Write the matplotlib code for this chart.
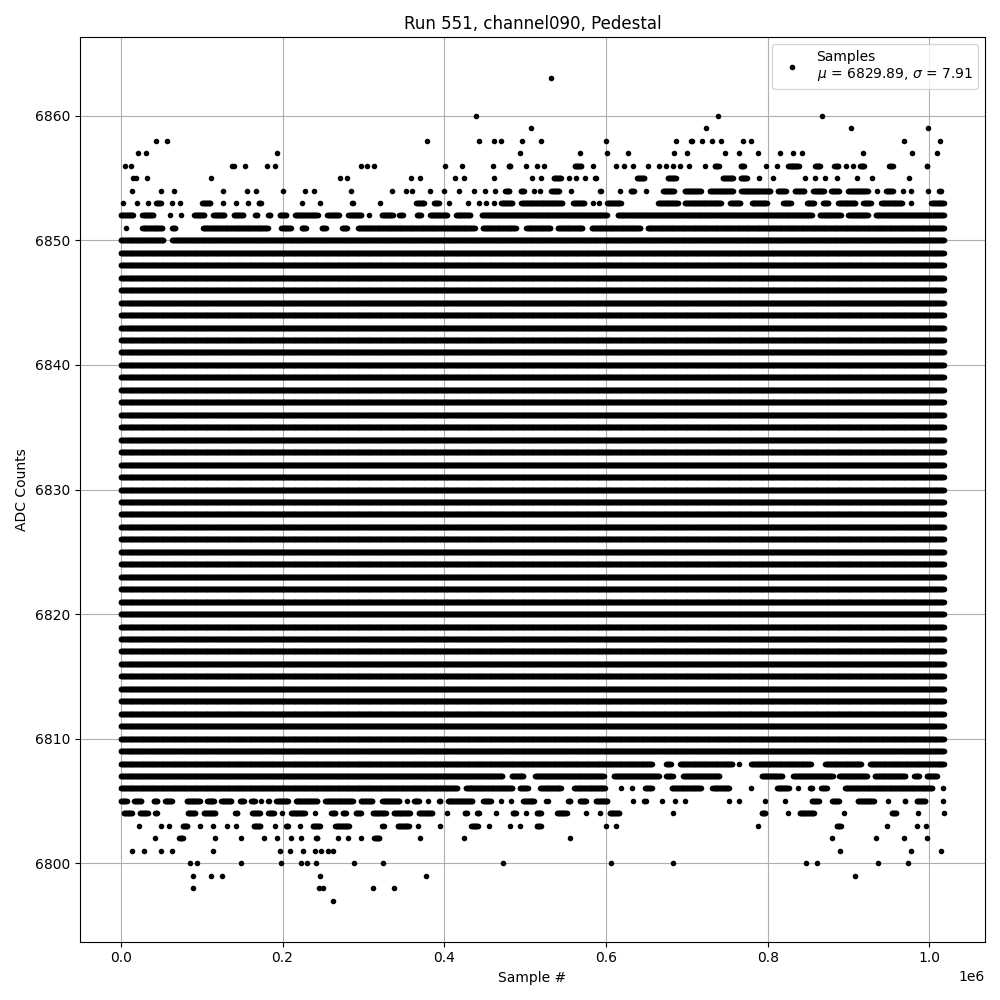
import numpy as np
import matplotlib
matplotlib.use("Agg")
import matplotlib.pyplot as plt

# ── Dados ───────────────────────────────────────────────────────────────────
# posições em milhares de amostras; (a, b) = trecho contínuo (bordas visíveis),
# número = ponto isolado
n_samples_k = 1018
mu, sigma = 6829.89, 7.91

# níveis preenchidos em toda a extensão
full_levels = list(range(6809, 6850))

adc_6863 = [532]
adc_6860 = [439, 738, 867]
adc_6859 = [507, 724, 903, 998]
adc_6858 = [44, 57, 379, 443, 462, 470, 496, 520, 600, 687, (703, 709), 719, 731,
            742, 769, 780, 968, 1013]
adc_6857 = [21, 31, 193, 494, 568, 601, 627, 684, 700, (745, 749), 764, 788, 815,
            831, 843, 918, 979, 1010]
adc_6856 = [5, 13, 137, 140, 154, 181, 191, 297, 304, 313, 401, 422, 460, (477, 485),
            501, 515, 524, (559, 572), 584, 612, 622, 633, 652, 666, 674, 683, 691, 703,
            723, (732, 742), (764, 773), 798, 811, (823, 841), (856, 868), (880, 890),
            897, 905, (912, 922), (948, 957), (994, 1000)]
adc_6855 = [15, 19, 33, 112, 271, 280, 359, 370, 413, 424, 461, 508, 520, (533, 547),
            554, 563, 574, (584, 590), (636, 650), (674, 689), (742, 760), (764, 777),
            789, 806, 846, 858, 871, 886, 911, 929, 975]
adc_6854 = [14, 50, 66, 127, (154, 157), 167, 201, 228, 239, (283, 287), 335, 353, 360,
            382, 400, 418, 437, 450, 463, (473, 483), (492, 501), 511, 519, (530, 545),
            557, (590, 596), 617, (628, 637), 649, (668, 687), (695, 720), (726, 760),
            (765, 806), (810, 825), (831, 848), (854, 872), (876, 891), (897, 926), 935,
            (944, 957), 967, 977, 998, (1010, 1017)]
adc_6853 = [3, 20, 34, (41, 52), 63, (71, 76), (98, 114), 126, (141, 145), 157,
            (168, 176), 224, (244, 248), (284, 290), 321, (363, 378), (385, 396), 406,
            (427, 431), 443, 452, 462, (468, 487), (493, 549), (557, 576), 584, 591,
            (599, 621), (662, 691), (695, 745), (751, 769), (778, 802), (817, 831),
            (846, 860), (866, 878), (885, 911), (916, 930), (938, 969), 977, (1000, 1018)]
adc_6852 = [(0, 18), (24, 43), 61, 74, (88, 106), (112, 131), (137, 154), (164, 172),
            (180, 188), (194, 207), (213, 246), (253, 273), (279, 300), 307, (320, 339),
            (342, 351), (364, 374), (380, 406), (412, 435), (444, 604), (612, 857),
            (862, 893), (897, 926), (931, 1018)]
adc_6851 = [6, (24, 54), (61, 70), (99, 184), (196, 213), (221, 232), (246, 256),
            (271, 283), (291, 440), (445, 491), (499, 534), (538, 574), (580, 645),
            (649, 1018)]
adc_6850 = [(0, 56), (61, 1018)]

adc_6808 = [(0, 660), (672, 683), (689, 759), 765, (777, 856), (869, 918), (924, 1018)]
adc_6807 = [(0, 475), (481, 501), (510, 600), (607, 668), (672, 685), (693, 743),
            (790, 821), (829, 883), (886, 926), (930, 973), (979, 990), (994, 1012)]
adc_6806 = [(0, 419), (424, 487), (491, 506), (516, 547), (558, 602), 618, 632,
            (646, 659), (679, 720), (729, 755), 779, (809, 829), 838, (850, 858),
            (864, 876), (893, 1006), 1017]
adc_6805 = [(0, 10), (14, 28), (38, 48), (52, 66), (79, 100), (104, 118), (122, 139),
            (145, 155), (159, 168), (172, 176), (180, 186), (190, 210), (214, 246),
            (250, 290), (294, 314), (321, 347), (351, 356), (360, 372), 380, (391, 398),
            (402, 438), (446, 460), 470, 483, (495, 514), 526, 528, (551, 559),
            (565, 578), (585, 605), 634, (645, 652), 669, 686, 698, 752, 765, 797, 822,
            (852, 866), (877, 891), (909, 934), 949, (967, 973), (982, 998), 1017]
adc_6804 = [(1, 17), (21, 36), (40, 48), (80, 95), (100, 120), (139, 147), (160, 175),
            (180, 192), 199, (208, 230), 240, (258, 268), (272, 281), (288, 300),
            (309, 330), (335, 360), (366, 388), 403, (423, 431), (438, 446), 464,
            (482, 491), 501, (512, 522), 518, (537, 554), 575, 593, (602, 619), 683,
            (790, 800), 825, (837, 860), 895, (951, 962), 986, (1017, 1018)]
adc_6803 = [23, 50, 60, (74, 85), 98, 114, 131, 142, (162, 175), 191, (202, 210), 222,
            (235, 249), (263, 285), (321, 328), (340, 359), (366, 370), 395, (431, 444),
            455, 481, 494, (512, 521), 520, 600, 612, 788, (883, 893), 947, 985, 996]
adc_6802 = [42, (70, 79), 117, 149, 177, 193, (208, 213), 223, (239, 246), 268,
            (279, 283), 297, (311, 323), 370, 424, 555, 879, 934, 968, 997]
adc_6801 = [14, 29, 50, 63, 114, 197, 209, 225, 240, 248, 256, 263, 889, 977, 1014]
adc_6800 = [85, 94, 149, 198, 223, 230, 242, (287, 291), 324, 473, 606, 683, 848, 861,
            937, 973]
adc_6799 = [89, 112, 125, 246, 377, 908]
adc_6798 = [89, 245, 250, 312, 338]
adc_6797 = [263]

sparse_levels = {
    6863: adc_6863, 6860: adc_6860, 6859: adc_6859, 6858: adc_6858, 6857: adc_6857,
    6856: adc_6856, 6855: adc_6855, 6854: adc_6854, 6853: adc_6853, 6852: adc_6852,
    6851: adc_6851, 6850: adc_6850, 6808: adc_6808, 6807: adc_6807,
    6806: adc_6806, 6805: adc_6805, 6804: adc_6804, 6803: adc_6803, 6802: adc_6802,
    6801: adc_6801, 6800: adc_6800, 6799: adc_6799, 6798: adc_6798, 6797: adc_6797,
}

# ── Montar os pontos ─────────────────────────────────────────────────────────
STEP = 800     # amostras entre marcadores desenhados num trecho contínuo
RAIO_K = 2.5   # raio do marcador (~2 px) em milhares de amostras

xs, ys = [], []

def add_segment(a, b, level):
    # as bordas lidas incluem o raio do marcador; recuar para o centro
    if b > a:
        a2 = 0 if a == 0 else a + RAIO_K
        b2 = n_samples_k if b >= n_samples_k else b - RAIO_K
        if b2 < a2:
            a2 = b2 = (a + b) / 2
        a, b = a2, b2
    pts = np.arange(a * 1000, b * 1000 + 1, STEP)
    xs.append(pts)
    ys.append(np.full(len(pts), level))

for lvl in full_levels:
    if lvl in sparse_levels:
        continue
    add_segment(0, n_samples_k, lvl)

for lvl, segs in sparse_levels.items():
    for s in segs:
        if isinstance(s, tuple):
            add_segment(s[0], s[1], lvl)
        else:
            add_segment(s, s, lvl)

x = np.concatenate(xs)
y = np.concatenate(ys)

# ── Figura ───────────────────────────────────────────────────────────────────
fig, ax = plt.subplots(figsize=(10, 10), dpi=100)
ax.plot(x, y, "k.", label=f"Samples\n$\\mu$ = {mu:.2f}, $\\sigma$ = {sigma:.2f}")
ax.set_title("Run 551, channel090, Pedestal")
ax.set_xlabel("Sample #")
ax.set_ylabel("ADC Counts")
ax.grid(True)
ax.legend(loc="upper right")
plt.tight_layout()
plt.savefig("out.png", dpi=100)
